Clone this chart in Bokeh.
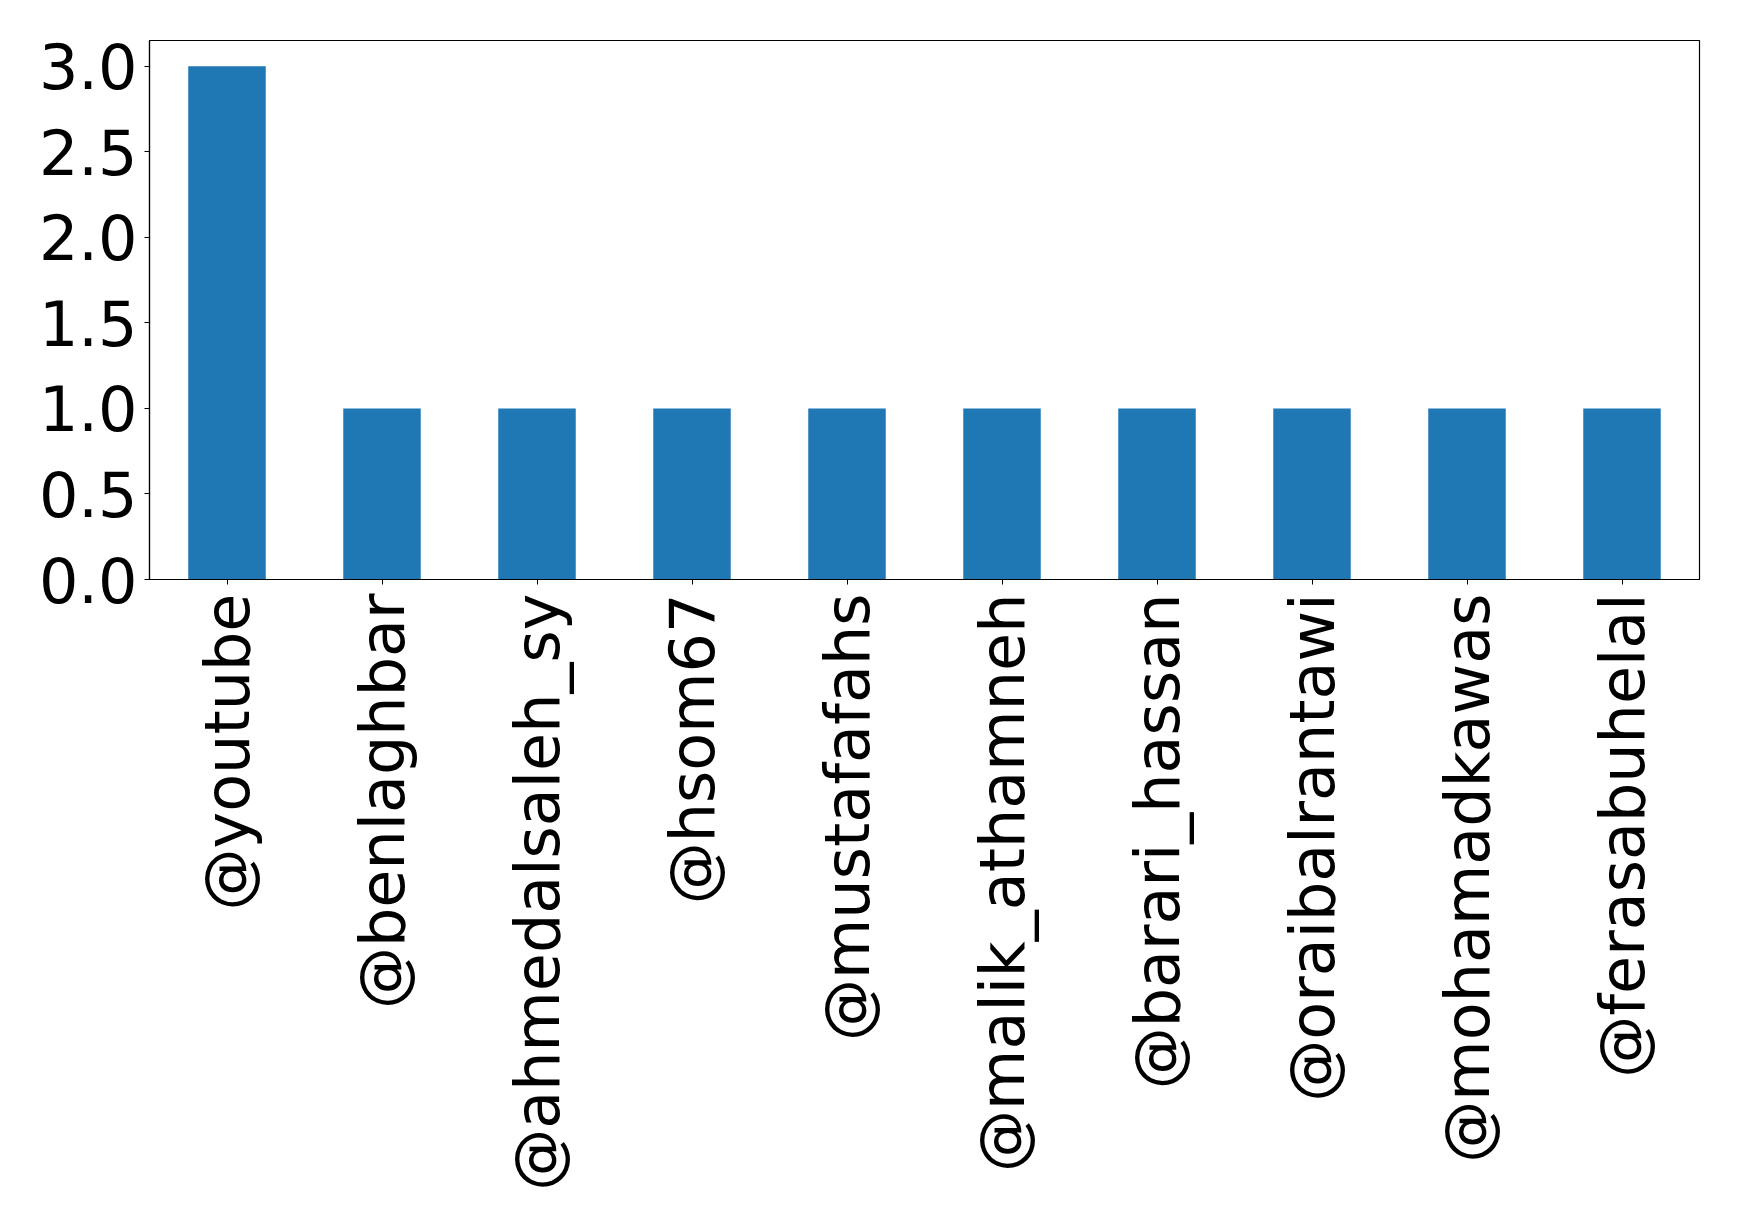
import math
from bokeh.plotting import figure
from bokeh.models import Range1d, FixedTicker, PrintfTickFormatter
from bokeh.embed import file_html
from bokeh.resources import INLINE

# Mention counts per account
accounts = ["@youtube", "@benlaghbar", "@ahmedalsaleh_sy", "@hsom67", "@mustafafahs",
            "@malik_athamneh", "@barari_hassan", "@oraibalrantawi", "@mohamadkawas",
            "@ferasabuhelal"]
counts = [3, 1, 1, 1, 1, 1, 1, 1, 1, 1]
y_ticks = [0.0, 0.5, 1.0, 1.5, 2.0, 2.5, 3.0]

p = figure(x_range=accounts, y_range=Range1d(0, 3.15),
           width=1739, height=1230,
           min_border_left=149, min_border_right=40,
           min_border_top=40, min_border_bottom=651,
           output_backend="svg", toolbar_location=None)

p.vbar(x=accounts, top=counts, width=0.5, color="#1f77b4", line_color=None)

p.xgrid.visible = False
p.ygrid.visible = False
p.outline_line_color = "black"
p.outline_line_width = 1.2

for ax in (p.xaxis, p.yaxis):
    ax.axis_line_color = "black"
    ax.axis_line_width = 1.2
    ax.major_tick_in = 0
    ax.major_tick_out = 5
    ax.minor_tick_line_color = None
    ax.major_label_text_font = "DejaVu Sans"
    ax.major_label_text_font_size = "62px"
    ax.major_label_text_color = "black"

p.yaxis.ticker = FixedTicker(ticks=y_ticks)
p.yaxis.formatter = PrintfTickFormatter(format="%.1f")
p.yaxis.major_label_standoff = 7

p.xaxis.major_label_orientation = math.pi / 2
p.xaxis.major_label_standoff = 9
p.x_range.range_padding = 0

open("out.html", "w").write(file_html(p, INLINE))
